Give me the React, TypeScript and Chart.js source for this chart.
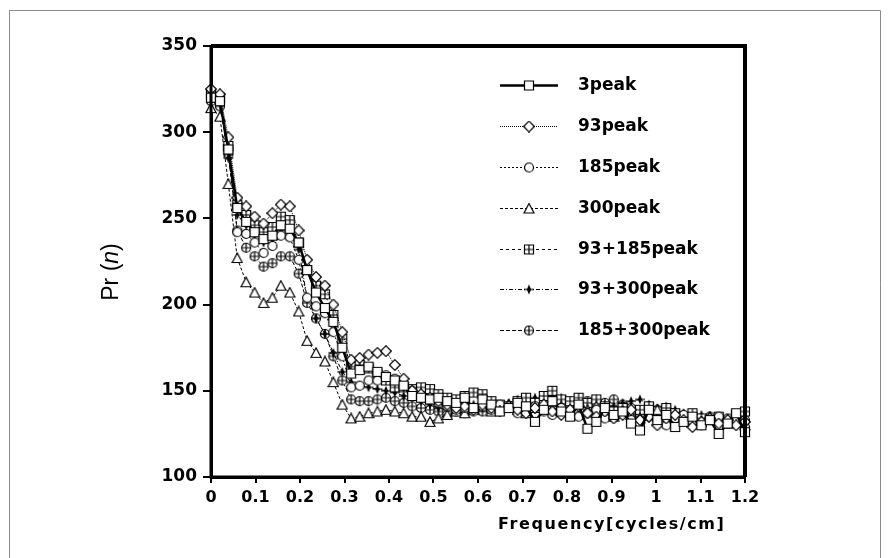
import { useEffect, useRef } from 'react';
import { Chart, registerables } from 'chart.js';
Chart.register(...registerables);

// Frequency grid (cycles/cm)
const frequency = [
  0, 0.020, 0.039, 0.059, 0.079, 0.098, 0.118, 0.138, 0.157, 0.177,
  0.197, 0.216, 0.236, 0.256, 0.275, 0.295, 0.315, 0.334, 0.354, 0.374,
  0.393, 0.413, 0.433, 0.452, 0.472, 0.492, 0.511, 0.531, 0.551, 0.570,
  0.590, 0.610, 0.630, 0.649, 0.669, 0.689, 0.708, 0.728, 0.748, 0.767,
  0.787, 0.807, 0.826, 0.846, 0.866, 0.885, 0.905, 0.925, 0.944, 0.964,
  0.984, 1.003, 1.023, 1.043, 1.062, 1.082, 1.102, 1.121, 1.141, 1.161,
  1.180, 1.200,
];

const peak3 = [
  320, 318, 290, 256, 248, 242, 238, 240, 246, 244, 236, 220, 207, 198, 190, 175, 160, 162, 164, 161, 158, 156, 153, 147,
  146, 145, 146, 144, 143, 146, 140, 145, 142, 138, 140, 143, 141, 132, 139, 144, 138, 135, 142, 128,
  132, 140, 136, 138, 131, 127, 139, 133, 136, 129, 132, 135, 130, 133, 125, 131, 137, 126,
];
const peak93 = [
  325, 322, 297, 262, 257, 251, 247, 253, 258, 257, 243, 226, 216, 211, 200, 184, 168, 169, 171, 172, 173, 165, 157, 150,
  148, 146, 144, 142, 140, 141, 139, 142, 140, 138, 141, 139, 137, 140, 142, 138, 136, 139, 141, 137,
  135, 138, 134, 136, 139, 133, 135, 130, 134, 136, 133, 129, 132, 134, 131, 133, 130, 132,
];
const peak185 = [
  321, 318, 290, 242, 241, 236, 230, 234, 240, 239, 226, 204, 199, 195, 184, 170, 152, 153, 156, 156, 159, 157, 153, 150,
  147, 145, 143, 141, 139, 140, 138, 141, 139, 142, 140, 137, 139, 141, 138, 136, 140, 138, 135, 137,
  139, 134, 136, 138, 133, 131, 135, 133, 130, 134, 136, 132, 130, 133, 135, 131, 133, 129,
];
const peak300 = [
  314, 309, 270, 227, 213, 207, 201, 204, 211, 207, 196, 179, 172, 167, 155, 142, 134, 135, 137, 138, 139, 138, 137, 135,
  135, 132, 134, 136, 138, 137, 139, 141, 138, 140, 142, 139, 137, 140, 142, 139, 141, 138, 136, 139,
  141, 137, 135, 138, 136, 134, 137, 139, 135, 133, 136, 134, 132, 135, 133, 131, 134, 130,
];
const peak93p185 = [
  322, 320, 292, 258, 252, 246, 242, 245, 251, 249, 236, 220, 211, 206, 194, 180, 164, 165, 163, 160, 156, 152, 152, 151,
  152, 151, 148, 146, 145, 147, 149, 148, 144, 142, 141, 144, 146, 143, 147, 150, 145, 144, 146, 143,
  145, 141, 138, 140, 136, 139, 141, 138, 140, 137, 135, 137, 134, 133, 135, 132, 136, 138,
];
const peak93p300 = [
  318, 317, 285, 252, 246, 240, 236, 238, 243, 242, 232, 204, 192, 183, 172, 161, 155, 153, 152, 151, 150, 149, 147, 146,
  144, 142, 140, 139, 141, 143, 142, 140, 138, 140, 143, 145, 144, 146, 145, 147, 146, 144, 145, 143,
  145, 142, 141, 143, 144, 145, 142, 140, 141, 139, 137, 135, 136, 134, 135, 133, 131, 132,
];
const peak185p300 = [
  318, 315, 287, 243, 233, 228, 222, 224, 228, 228, 218, 201, 192, 183, 170, 156, 145, 144, 144, 145, 146, 144, 143, 141,
  140, 139, 138, 136, 138, 137, 139, 138, 140, 139, 141, 140, 138, 141, 139, 143, 141, 140, 142, 144,
  141, 143, 145, 142, 140, 138, 141, 139, 137, 136, 134, 136, 133, 135, 132, 134, 131, 133,
];

const seriesNames = ['3peak', '93peak', '185peak', '300peak', '93+185peak', '93+300peak', '185+300peak'];
const seriesValues = [peak3, peak93, peak185, peak300, peak93p185, peak93p300, peak185p300];
const seriesMarkers = ['square', 'diamond', 'circle', 'triangle', 'squareCross', 'star', 'circleCross'];
const seriesDashes: number[][] = [[], [1, 1], [2, 2], [3, 2], [3, 3], [4, 2, 1, 2], [4, 2]];
const seriesWidths = [2.5, 1, 1, 1, 1, 1, 1];

const xTickLabels = ['0', '0.1', '0.2', '0.3', '0.4', '0.5', '0.6', '0.7', '0.8', '0.9', '1', '1.1', '1.2'];
const yTickLabels = ['100', '150', '200', '250', '300', '350'];
const xTitle = 'Frequency[cycles/cm]';

function makeMarker(kind: string): HTMLCanvasElement {
  const c = document.createElement('canvas');
  c.width = 12;
  c.height = 12;
  const g = c.getContext('2d')!;
  g.strokeStyle = '#000';
  g.fillStyle = '#fff';
  g.lineWidth = 1.2;
  const m = 6;
  g.beginPath();
  if (kind === 'square' || kind === 'squareCross') {
    g.rect(1.5, 1.5, 9, 9);
    g.fill();
    g.stroke();
    if (kind === 'squareCross') {
      g.beginPath();
      g.moveTo(1.5, m); g.lineTo(10.5, m);
      g.moveTo(m, 1.5); g.lineTo(m, 10.5);
      g.stroke();
    }
  } else if (kind === 'diamond') {
    g.moveTo(m, 0.7); g.lineTo(11.3, m); g.lineTo(m, 11.3); g.lineTo(0.7, m); g.closePath();
    g.fill(); g.stroke();
  } else if (kind === 'circle' || kind === 'circleCross') {
    g.arc(m, m, 4.5, 0, Math.PI * 2);
    g.fill(); g.stroke();
    if (kind === 'circleCross') {
      g.beginPath();
      g.moveTo(1.5, m); g.lineTo(10.5, m);
      g.moveTo(m, 1.5); g.lineTo(m, 10.5);
      g.stroke();
    }
  } else if (kind === 'triangle') {
    g.moveTo(m, 1); g.lineTo(11, 10.5); g.lineTo(1, 10.5); g.closePath();
    g.fill(); g.stroke();
  } else if (kind === 'star') {
    g.fillStyle = '#000';
    g.moveTo(m, 1); g.lineTo(8.2, m); g.lineTo(m, 11); g.lineTo(3.8, m); g.closePath();
    g.fill();
    g.beginPath();
    g.moveTo(1, m); g.lineTo(11, m);
    g.stroke();
  }
  return c;
}

export default function App() {
  const ref = useRef<HTMLCanvasElement | null>(null);

  useEffect(() => {
    const canvas = ref.current!;
    const markers = seriesMarkers.map(makeMarker);

    const decor = {
      id: 'decor',
      afterDraw(chart: any) {
        const ctx = chart.ctx as CanvasRenderingContext2D;
        const a = chart.chartArea;
        ctx.save();
        ctx.strokeStyle = '#000';
        ctx.lineWidth = 4;
        ctx.beginPath();
        ctx.moveTo(a.left, a.top);
        ctx.lineTo(a.right, a.top);
        ctx.lineTo(a.right, a.bottom);
        ctx.stroke();
        ctx.lineWidth = 3;
        ctx.beginPath();
        ctx.moveTo(a.left, a.top);
        ctx.lineTo(a.left, a.bottom);
        ctx.lineTo(a.right, a.bottom);
        ctx.stroke();

        // legend
        const rowY = [85, 126, 167, 208, 249, 289, 330];
        ctx.font = 'bold 17px "DejaVu Sans"';
        ctx.textBaseline = 'middle';
        ctx.textAlign = 'left';
        ctx.fillStyle = '#000';
        seriesNames.forEach((name, i) => {
          const y = rowY[i] + 0.5;
          ctx.lineWidth = seriesWidths[i];
          ctx.setLineDash(seriesDashes[i]);
          ctx.beginPath();
          ctx.moveTo(500, y);
          ctx.lineTo(558, y);
          ctx.stroke();
          ctx.setLineDash([]);
          ctx.drawImage(markers[i], 529 - 6, y - 6);
          ctx.fillText(name, 578, rowY[i] + 1);
        });

        // x title
        ctx.font = 'bold 16px "DejaVu Sans"';
        (ctx as any).letterSpacing = '1.6px';
        ctx.fillText(xTitle, 498, 525);
        (ctx as any).letterSpacing = '0px';

        // y title "Pr (n)" with italic n
        ctx.translate(112, 272);
        ctx.rotate(-Math.PI / 2);
        const fN = '23px "Liberation Sans"';
        const fI = 'italic 23px "Liberation Sans"';
        ctx.font = fN;
        const w1 = ctx.measureText('Pr (').width;
        const w3 = ctx.measureText(')').width;
        ctx.font = fI;
        const w2 = ctx.measureText('n').width;
        let x = -(w1 + w2 + w3) / 2;
        ctx.textBaseline = 'middle';
        ctx.font = fN;
        ctx.fillText('Pr (', x, 0);
        x += w1;
        ctx.font = fI;
        ctx.fillText('n', x, 0);
        x += w2;
        ctx.font = fN;
        ctx.fillText(')', x, 0);
        ctx.restore();

        // outer gray frame
        ctx.save();
        ctx.strokeStyle = '#8a8a8a';
        ctx.lineWidth = 1;
        ctx.beginPath();
        ctx.moveTo(9.5, 558);
        ctx.lineTo(9.5, 10.5);
        ctx.lineTo(880.5, 10.5);
        ctx.lineTo(880.5, 558);
        ctx.stroke();
        ctx.restore();
      },
    };

    const chart = new Chart(canvas, {
      type: 'line',
      data: {
        datasets: seriesNames.map((name, i) => ({
          label: name,
          data: frequency.map((f, k) => ({ x: f, y: seriesValues[i][k] })),
          borderColor: '#000',
          borderWidth: seriesWidths[i],
          borderDash: seriesDashes[i],
          pointStyle: markers[i] as any,
          pointRadius: 6,
          backgroundColor: '#fff',
          fill: false,
          tension: 0,
          clip: false as any,
        })),
      },
      options: {
        animation: false,
        responsive: false,
        devicePixelRatio: 1,
        layout: { padding: { left: 0, top: 46, right: 145, bottom: 0 } },
        plugins: { legend: { display: false }, tooltip: { enabled: false } },
        scales: {
          x: {
            type: 'linear',
            min: 0,
            max: 1.2,
            afterFit: (s: any) => { s.height = 81; },
            border: { display: true, color: '#000', width: 3 },
            grid: { drawOnChartArea: false, drawTicks: true, tickLength: 6, color: '#000', lineWidth: 2 },
            ticks: {
              stepSize: 0.1,
              autoSkip: false,
              maxRotation: 0,
              padding: 5,
              color: '#000',
              font: { family: 'DejaVu Sans', weight: 'bold', size: 16 },
              callback: (_v: any, i: number) => xTickLabels[i],
            },
          },
          y: {
            type: 'linear',
            min: 100,
            max: 350,
            afterFit: (s: any) => { s.width = 211; },
            border: { display: true, color: '#000', width: 3 },
            grid: { drawOnChartArea: false, drawTicks: true, tickLength: 8, color: '#000', lineWidth: 2 },
            ticks: {
              stepSize: 50,
              padding: 6,
              color: '#000',
              font: { family: 'DejaVu Sans', weight: 'bold', size: 17 },
              callback: (_v: any, i: number) => yTickLabels[i],
            },
          },
        },
      },
      plugins: [decor],
    } as any);

    return () => chart.destroy();
  }, []);

  return (
    <div style={{ position: 'absolute', left: 0, top: 0, width: 890, height: 558, background: '#fff' }}>
      <canvas ref={ref} width={890} height={558} style={{ width: 890, height: 558, display: 'block' }} />
    </div>
  );
}
